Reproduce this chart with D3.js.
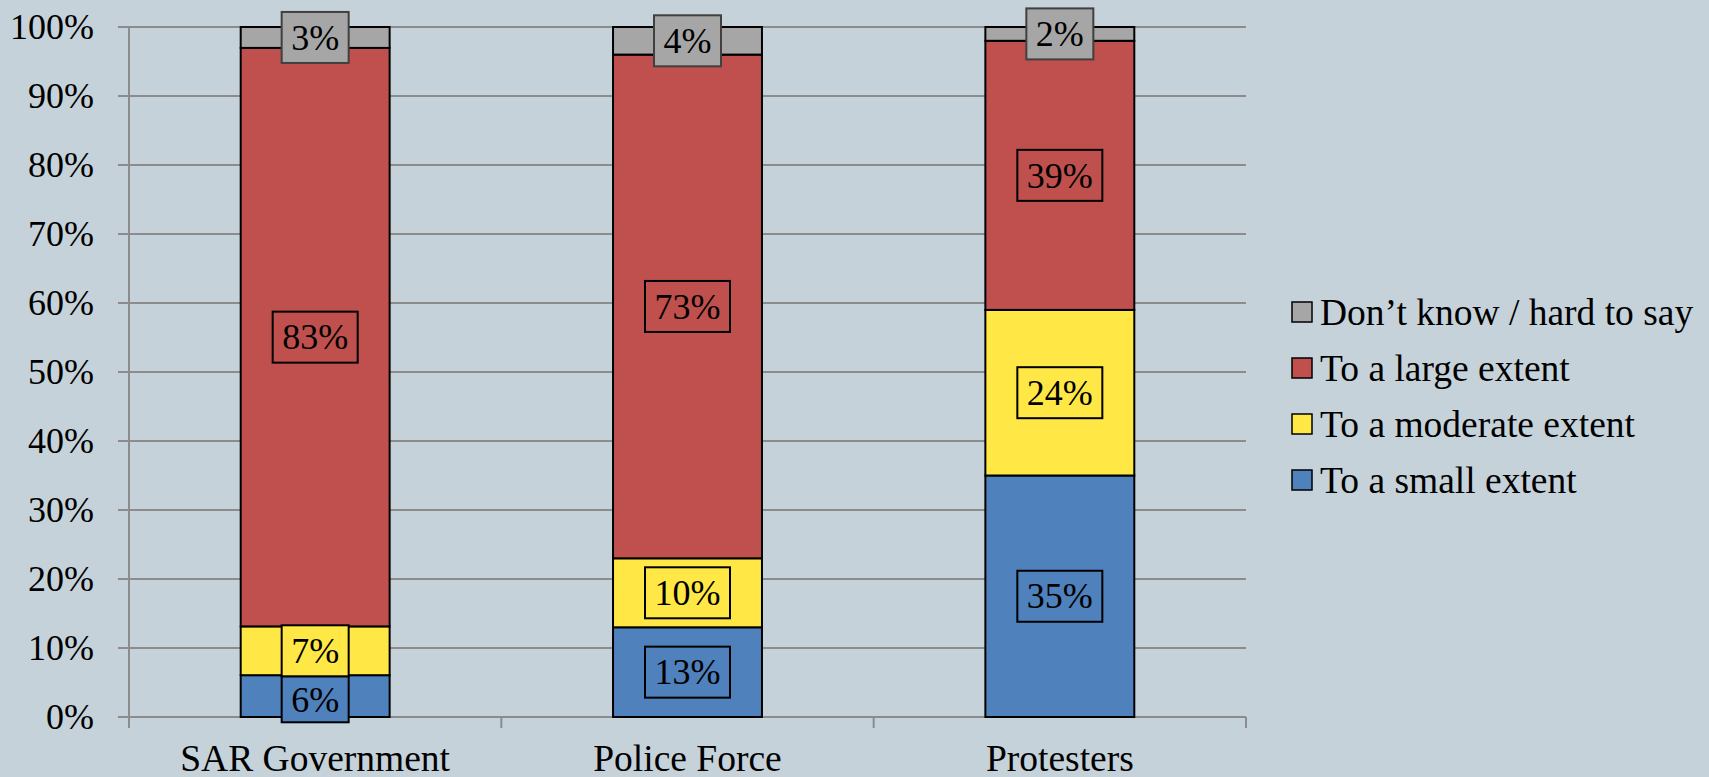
<!DOCTYPE html>
<html>
<head>
<meta charset="utf-8">
<script src="https://cdn.jsdelivr.net/npm/d3@7"></script>
<style>
  body { margin: 0; background: #c6d2d9; }
</style>
</head>
<body>
<div id="chart"></div>
<script>
// Data
const categories = ["SAR Government", "Police Force", "Protesters"];
const seriesNames = ["To a small extent", "To a moderate extent", "To a large extent", "Don’t know / hard to say"];
const smallExtent = [6, 13, 35];
const moderateExtent = [7, 10, 24];
const largeExtent = [83, 73, 39];
const dontKnow = [3, 4, 2];
const yTicks = [0, 0.1, 0.2, 0.3, 0.4, 0.5, 0.6, 0.7, 0.8, 0.9, 1];

const colors = ["#4f81bd", "#ffe845", "#c0504d", "#a6a6a6"];

const W = 1709, H = 777;
const plot = { left: 129, right: 1246, top: 27, bottom: 717 };
const fontSize = 36;
const bigFont = 37.5; // category + legend text read a touch larger
const font = "Liberation Serif, DejaVu Serif, Noto Serif, serif";

const svg = d3.select("#chart").append("svg")
  .attr("width", W)
  .attr("height", H)
  .style("font-family", font);

svg.append("rect").attr("width", W).attr("height", H).attr("fill", "#c6d2d9");

// rows for the stack
const keys = ["small", "moderate", "large", "dontKnow"];
const rows = categories.map((c, i) => ({
  category: c,
  small: smallExtent[i],
  moderate: moderateExtent[i],
  large: largeExtent[i],
  dontKnow: dontKnow[i]
}));

const stacked = d3.stack().keys(keys).offset(d3.stackOffsetExpand)(rows);

const x = d3.scaleBand().domain(categories).range([plot.left, plot.right]).padding(0);
const y = d3.scaleLinear().domain([0, 1]).range([plot.bottom, plot.top]);
const barW = x.bandwidth() * 0.4;

// gridlines + y tick labels
const grid = svg.append("g");
grid.selectAll("line")
  .data(yTicks)
  .join("line")
  .attr("x1", plot.left - 11)
  .attr("x2", plot.right)
  .attr("y1", d => y(d))
  .attr("y2", d => y(d))
  .attr("stroke", "#8c8c8c")
  .attr("stroke-width", 2);

grid.selectAll("text")
  .data(yTicks)
  .join("text")
  .attr("x", plot.left - 35)
  .attr("y", d => y(d))
  .attr("dy", "0.34em")
  .attr("text-anchor", "end")
  .attr("font-size", fontSize)
  .text(d => d3.format(".0%")(d));

// axes lines
svg.append("line")
  .attr("x1", plot.left).attr("x2", plot.left)
  .attr("y1", plot.top).attr("y2", plot.bottom + 11)
  .attr("stroke", "#8c8c8c").attr("stroke-width", 2);

const xTickPos = categories.map(c => x(c)).concat([plot.right]);
svg.append("g").selectAll("line")
  .data(xTickPos)
  .join("line")
  .attr("x1", d => d).attr("x2", d => d)
  .attr("y1", plot.bottom).attr("y2", plot.bottom + 11)
  .attr("stroke", "#8c8c8c").attr("stroke-width", 2);

svg.append("g").selectAll("text")
  .data(categories)
  .join("text")
  .attr("x", d => x(d) + x.bandwidth() / 2)
  .attr("y", 771)
  .attr("text-anchor", "middle")
  .attr("font-size", bigFont)
  .text(d => d);

// bars
const layers = svg.append("g").selectAll("g")
  .data(stacked)
  .join("g")
  .attr("fill", (d, i) => colors[i]);

layers.selectAll("rect")
  .data(d => d)
  .join("rect")
  .attr("x", d => x(d.data.category) + (x.bandwidth() - barW) / 2)
  .attr("y", d => y(d[1]))
  .attr("width", barW)
  .attr("height", d => y(d[0]) - y(d[1]))
  .attr("stroke", "#000")
  .attr("stroke-width", 2);

// data labels (boxed)
const boxH = 51, padX = 9.5;
const labelLayer = svg.append("g");
categories.forEach((c, ci) => {
  const boxes = [];
  stacked.forEach((layer, li) => {
    const seg = layer[ci];
    const val = layer.key === "small" ? smallExtent[ci]
      : layer.key === "moderate" ? moderateExtent[ci]
      : layer.key === "large" ? largeExtent[ci] : dontKnow[ci];
    boxes.push({ cy: (y(seg[0]) + y(seg[1])) / 2, val, li });
  });
  // Excel pushes an overlapping lower label down
  for (let i = 0; i < boxes.length - 1; i++) {
    const up = boxes[i + 1], lo = boxes[i];
    if (lo.cy - boxH / 2 < up.cy + boxH / 2 - 1) {
      lo.top = up.cy + boxH / 2;
      lo.h = boxH - 5;
    }
  }
  boxes.forEach(b => {
    const g = labelLayer.append("g");
    const cx = x(c) + x.bandwidth() / 2;
    const t = g.append("text")
      .attr("x", cx)
      .attr("text-anchor", "middle")
      .attr("font-size", fontSize)
      .text(b.val + "%");
    const tw = t.node().getComputedTextLength();
    const h = b.h || boxH;
    const top = b.top !== undefined ? b.top : b.cy - boxH / 2;
    t.attr("y", top + h / 2).attr("dy", "0.34em");
    g.insert("rect", "text")
      .attr("x", cx - tw / 2 - padX)
      .attr("y", top)
      .attr("width", tw + padX * 2)
      .attr("height", h)
      .attr("fill", colors[b.li])
      .attr("stroke", b.li === 3 ? "#404040" : "#000")
      .attr("stroke-width", 2);
  });
});

// legend
const legendOrder = [3, 2, 1, 0];
const legend = svg.append("g").selectAll("g")
  .data(legendOrder)
  .join("g")
  .attr("transform", (d, i) => `translate(1292, ${312 + i * 56})`);

legend.append("rect")
  .attr("x", 0).attr("y", -10)
  .attr("width", 20).attr("height", 20)
  .attr("fill", d => colors[d])
  .attr("stroke", "#000")
  .attr("stroke-width", 1.5);

legend.append("text")
  .attr("x", 28)
  .attr("y", 0)
  .attr("dy", "0.34em")
  .attr("font-size", bigFont)
  .text(d => seriesNames[d]);
</script>
</body>
</html>
